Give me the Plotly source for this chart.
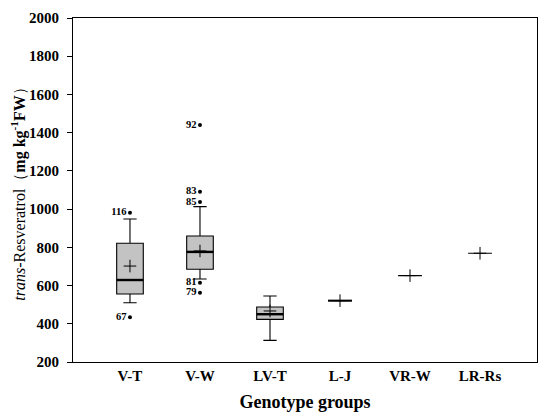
import plotly.graph_objects as go

categories = ["V-T", "V-W", "LV-T", "L-J", "VR-W", "LR-Rs"]
q1 = [556, 685, 423, 521, 652, 769]
median = [629, 776, 450, 521, 652, 769]
q3 = [821, 859, 488, 521, 652, 769]
lower_fence = [510, 634, 313, 521, 652, 769]
upper_fence = [948, 1013, 545, 521, 652, 769]
means = [702, 781, 467, 521, 652, 769]

outlier_group = ["V-T", "V-T", "V-W", "V-W", "V-W", "V-W", "V-W"]
outlier_value = [981, 434, 1440, 1091, 1037, 615, 563]
outlier_label = ["116", "67", "92", "83", "85", "81", "79"]

y_ticks = [200, 400, 600, 800, 1000, 1200, 1400, 1600, 1800, 2000]

SERIF = "Liberation Serif"
pos = {c: i for i, c in enumerate(categories)}
xs = list(range(len(categories)))

fig = go.Figure()

for i, c in enumerate(categories):
    single = q1[i] == q3[i]
    fig.add_trace(go.Box(
        x=[i], q1=[q1[i]], median=[median[i]], q3=[q3[i]],
        lowerfence=[lower_fence[i]], upperfence=[upper_fence[i]],
        width=0.34 if single else 0.38, whiskerwidth=0.5,
        fillcolor="#c3c3c3" if not single else "rgba(0,0,0,0)",
        line=dict(color="black", width=1.1),
        boxpoints=False, showlegend=False, hoverinfo="skip",
    ))
    if not single or c == "L-J":
        hw = 0.19 if not single else 0.17
        fig.add_trace(go.Scatter(
            x=[i - hw, i + hw], y=[median[i], median[i]], mode="lines",
            line=dict(color="black", width=2.4 if not single else 2.0),
            showlegend=False, hoverinfo="skip",
        ))

fig.add_trace(go.Scatter(
    x=xs, y=means, mode="markers",
    marker=dict(symbol="cross-thin", size=9, line=dict(color="black", width=1), color="black"),
    showlegend=False, hoverinfo="skip",
))

fig.add_trace(go.Scatter(
    x=[pos[g] for g in outlier_group], y=outlier_value, mode="markers+text",
    marker=dict(symbol="circle", size=4, color="black"),
    text=outlier_label, textposition="middle left",
    textfont=dict(family=SERIF, size=10.5, color="black", weight="bold"),
    showlegend=False, hoverinfo="skip",
))

fig.update_layout(
    width=542, height=411,
    margin=dict(l=65, r=13, t=10, b=57),
    paper_bgcolor="white", plot_bgcolor="white",
    font=dict(family=SERIF, color="black"),
    xaxis=dict(
        range=[-0.814, 5.814], tickmode="array", tickvals=xs, ticktext=categories,
        showgrid=False, zeroline=False, ticks="", automargin=False,
        showline=True, linecolor="black", linewidth=1, mirror=True,
        tickfont=dict(family=SERIF, size=15, color="black", weight="bold"),
        title=dict(text="<b>Genotype groups</b>", font=dict(family=SERIF, size=18, color="black"), standoff=12),
    ),
    yaxis=dict(
        range=[200, 2000], tickmode="array", tickvals=y_ticks,
        showgrid=False, zeroline=False, ticks="outside", ticklen=5, tickcolor="black",
        showline=True, linecolor="black", linewidth=1, mirror=True, automargin=False,
        ticklabelstandoff=5,
        tickfont=dict(family=SERIF, size=15, color="black", weight="bold"),
        title=dict(text="<i>trans</i>-Resveratrol（<b>mg kg<sup>-1</sup>FW</b>）",
                   font=dict(family=SERIF, size=16, color="black"), standoff=10),
    ),
)

fig.write_html("out.html")
